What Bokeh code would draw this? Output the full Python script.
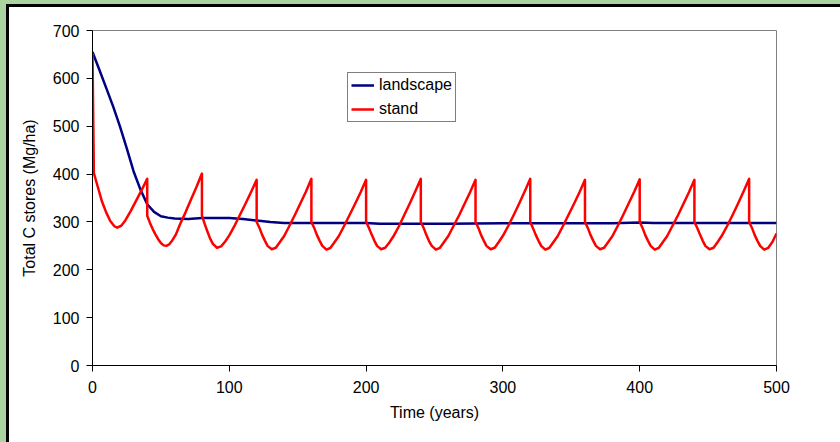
from bokeh.plotting import figure
from bokeh.models import Range1d, Legend, LegendItem, FixedTicker
from bokeh.embed import file_html
from bokeh.resources import INLINE

# ---------------- data ----------------
x_ticks = [0, 100, 200, 300, 400, 500]
y_ticks = [0, 100, 200, 300, 400, 500, 600, 700]

landscape_years = [0, 5, 10, 15, 20, 25, 30, 35, 40, 45, 50, 55, 60, 70, 80, 100,
                   110, 120, 130, 140, 200, 210, 260, 300, 380, 400, 410, 500]
landscape_c = [655, 618, 580, 542, 500, 454, 406, 368, 337, 321, 312, 309, 307, 306, 308, 308,
               306, 303, 300, 298, 298, 296, 296, 297, 297, 299, 298, 298]

# first three rotations (irregular)
stand_years_0 = [0, 1, 4, 7, 10, 13, 16, 18, 21, 24, 28, 32, 36, 40]
stand_c_0 = [652, 402, 372, 342, 320, 302, 291, 288, 292, 303, 323, 345, 367, 390]
stand_years_1 = [40, 42, 44, 46, 48, 50, 52, 54, 56, 58, 61, 64, 68, 72, 76, 80]
stand_c_1 = [313, 298, 285, 274, 264, 256, 251, 250, 253, 260, 274, 295, 320, 347, 373, 401]
stand_years_2 = [80, 82, 84, 86, 88, 91, 94, 97, 100, 104, 108, 112, 116, 120]
stand_c_2 = [313, 296, 280, 265, 254, 246, 249, 259, 272, 293, 316, 339, 363, 388]

# later rotations: harvest year, years after harvest, stores
harvest_years = [120, 160, 200, 240, 280, 320, 360, 400, 440]
rotation_offsets = [0, 2, 4, 6, 8, 11, 14, 17, 20, 24, 28, 32, 36, 40]
rotation_c = [
    [300, 288, 273, 261, 250, 243, 246, 258, 270, 292, 315, 339, 363, 390],
    [300, 288, 273, 261, 250, 242, 246, 258, 270, 292, 315, 338, 362, 388],
    [301, 288, 274, 261, 250, 243, 246, 257, 270, 291, 315, 339, 364, 390],
    [300, 288, 273, 260, 250, 242, 246, 258, 270, 292, 314, 338, 362, 388],
    [300, 288, 273, 261, 250, 243, 246, 258, 271, 292, 315, 339, 364, 390],
    [300, 287, 273, 261, 250, 242, 246, 258, 270, 292, 315, 338, 362, 388],
    [300, 288, 273, 261, 250, 243, 246, 258, 270, 292, 315, 339, 363, 389],
    [300, 288, 273, 261, 250, 242, 246, 258, 270, 292, 314, 338, 362, 388],
    [300, 288, 274, 261, 250, 243, 246, 258, 271, 292, 315, 339, 364, 390],
]
stand_years_last = [480, 482, 484, 486, 488, 491, 494, 497, 500]
stand_c_last = [300, 288, 273, 261, 250, 242, 246, 258, 276]

stand_years = stand_years_0 + stand_years_1 + stand_years_2
stand_c = stand_c_0 + stand_c_1 + stand_c_2
for h, vals in zip(harvest_years, rotation_c):
    stand_years += [h + o for o in rotation_offsets]
    stand_c += vals
stand_years += stand_years_last
stand_c += stand_c_last

# ---------------- figure ----------------
FONT = "Liberation Sans"
GREEN = "#a9d4a1"

p = figure(width=840, height=442,
           x_range=Range1d(0, 500), y_range=Range1d(0, 700),
           output_backend="svg", toolbar_location=None,
           min_border_left=92, min_border_right=64,
           min_border_top=30, min_border_bottom=77,
           background_fill_color="white", border_fill_color="white",
           border_fill_alpha=0,
           outline_line_color="#808080", outline_line_width=1)
# slide background: green margin with a black edge line on the left and top
p.styles = {
    "background-image": (
        f"linear-gradient(to bottom, {GREEN} 0px, {GREEN} 4px, transparent 4px),"
        f"linear-gradient(to right, {GREEN} 0px, {GREEN} 6px, #000 6px, #000 9px, transparent 9px),"
        f"linear-gradient(to bottom, {GREEN} 0px, {GREEN} 4px, #000 4px, #000 7px, #fff 7px)"
    ),
}
p.grid.visible = False

r_land = p.line(landscape_years, landscape_c, line_color="#000080", line_width=2.5,
                line_join="round")
r_stand = p.line(stand_years, stand_c, line_color="#ff0000", line_width=2.5,
                 line_join="round")

p.xaxis.ticker = FixedTicker(ticks=x_ticks, minor_ticks=[])
p.yaxis.ticker = FixedTicker(ticks=y_ticks, minor_ticks=[])
for ax in (p.xaxis[0], p.yaxis[0]):
    ax.axis_line_color = "black"
    ax.axis_line_width = 1
    ax.major_tick_line_color = "black"
    ax.major_tick_in = 0
    ax.major_tick_out = 6
    ax.minor_tick_out = 0
    ax.minor_tick_in = 0
    ax.major_label_text_font = FONT
    ax.major_label_text_font_size = "16px"
    ax.major_label_text_color = "black"
    ax.axis_label_text_font = FONT
    ax.axis_label_text_font_size = "16px"
    ax.axis_label_text_font_style = "normal"
    ax.axis_label_text_color = "black"

p.xaxis.axis_label = "Time (years)"
p.yaxis.axis_label = "Total C stores (Mg/ha)"
p.xaxis.major_label_standoff = 9
p.xaxis.axis_label_standoff = 8
p.yaxis.major_label_standoff = 7
p.yaxis.axis_label_standoff = 12

legend = Legend(items=[LegendItem(label="landscape", renderers=[r_land]),
                       LegendItem(label="stand", renderers=[r_stand])],
                location=(255, 243), orientation="vertical",
                border_line_color="black", border_line_width=1,
                background_fill_color="white", background_fill_alpha=1,
                label_text_font=FONT, label_text_font_size="16px",
                label_text_color="black",
                glyph_width=23, glyph_height=18, label_height=18,
                label_standoff=5, padding=3, spacing=6, margin=0)
p.add_layout(legend)

open("out.html", "w").write(file_html(p, INLINE))
